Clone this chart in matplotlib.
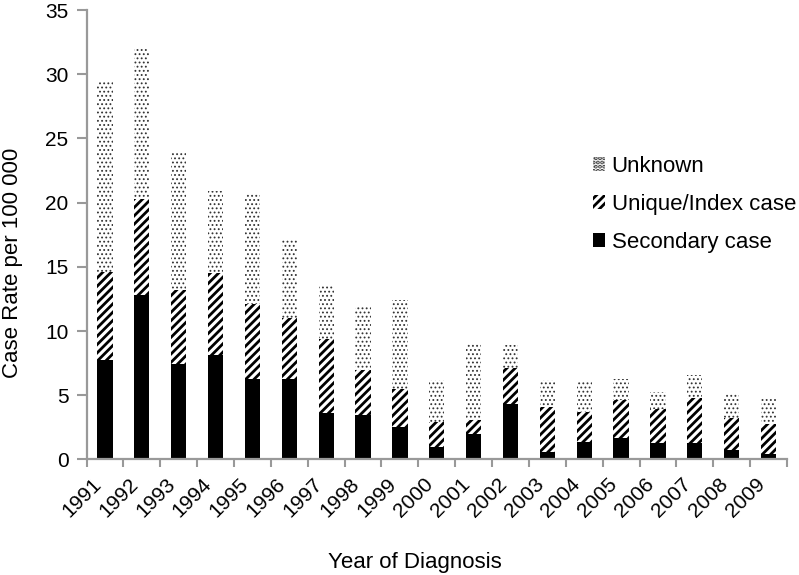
import numpy as np
import matplotlib.pyplot as plt

plt.rcParams['font.family'] = ['Liberation Sans', 'DejaVu Sans']
plt.rcParams['hatch.linewidth'] = 2.0

# --- Data (cumulative tops) ---
years = [str(y) for y in range(1991, 2010)]
secondary = [7.75, 12.8, 7.4, 8.1, 6.3, 6.3, 3.6, 3.5, 2.5, 1.0,
             2.0, 4.3, 0.6, 1.4, 1.7, 1.3, 1.3, 0.7, 0.4]
index_top = [14.6, 20.3, 13.2, 14.5, 12.1, 11.0, 9.4, 7.0, 5.5, 2.9,
             3.1, 7.1, 4.05, 3.7, 4.6, 3.95, 4.8, 3.25, 2.75]
total_top = [29.4, 32.0, 23.9, 20.9, 20.7, 17.1, 13.6, 11.9, 12.4, 6.2,
             9.1, 8.9, 6.2, 6.0, 6.25, 5.25, 6.6, 5.1, 4.9]

secondary = np.array(secondary)
unique_index = np.array(index_top) - secondary
unknown = np.array(total_top) - np.array(index_top)

x = np.arange(len(years))
w = 0.415

fig = plt.figure(figsize=(7.99, 5.75), dpi=100)
ax = fig.add_axes([0.1083, 0.2009, 0.8767, 0.7817])

ax.bar(x, secondary, w, color='black', linewidth=0, label='Secondary case')
ax.bar(x, unique_index, w, bottom=secondary, color='white', edgecolor='black',
       hatch='////', linewidth=0, label='Unique/Index case')
unk = ax.bar(x, unknown, w, bottom=secondary + unique_index, color='white',
             edgecolor='#333333', hatch='....', linewidth=0, label='Unknown')
for p in unk:
    if hasattr(p, 'set_hatch_linewidth'):
        p.set_hatch_linewidth(0.8)

ax.set_xlim(-0.5, len(years) - 0.5)
ax.set_ylim(0, 35)
ax.set_yticks(np.arange(0, 36, 5))
ax.set_xticks(x)
ax.set_xticklabels(years, rotation=45, ha='right', va='top')
ax.set_xticks(np.arange(-0.5, len(years), 1), minor=True)
ax.tick_params(axis='x', which='major', length=0, labelsize=15, pad=11)
ax.tick_params(axis='x', which='minor', length=6, width=1.5, color='#999999')
ax.tick_params(axis='y', length=7, width=1.5, color='#999999', labelsize=15, pad=6)

for s in ['top', 'right']:
    ax.spines[s].set_visible(False)
for s in ['left', 'bottom']:
    ax.spines[s].set_color('#999999')
    ax.spines[s].set_linewidth(1.6)

ax.set_ylabel('Case Rate per 100 000', fontsize=16)
ax.yaxis.set_label_coords(-0.0905, 0.438)
ax.set_xlabel('Year of Diagnosis', fontsize=16)
ax.xaxis.set_label_coords(0.469, -0.206)

h, l = ax.get_legend_handles_labels()
leg = ax.legend(h[::-1], l[::-1], loc='upper left', bbox_to_anchor=(0.742, 0.729),
                bbox_transform=fig.transFigure, frameon=False, fontsize=16,
                handlelength=0.55, handleheight=0.55, handletextpad=0.3,
                labelspacing=0.77, borderpad=0, borderaxespad=0)

fig.savefig('out.png', dpi=100)
